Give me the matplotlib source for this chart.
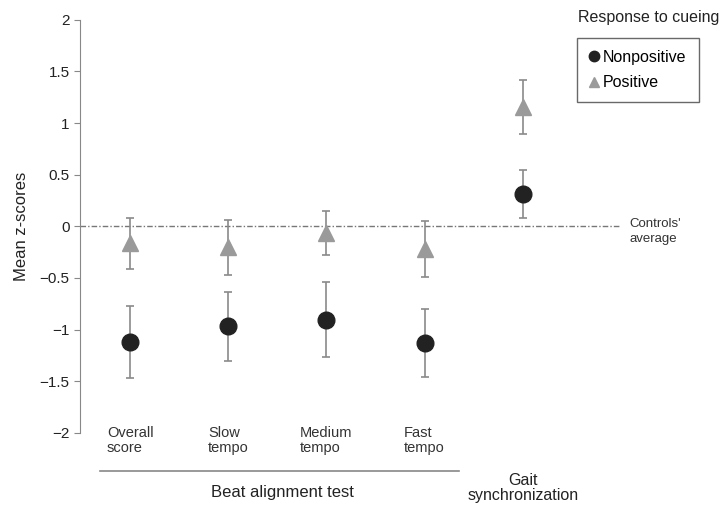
import matplotlib.pyplot as plt
from matplotlib.lines import Line2D
import numpy as np

plt.rcParams['font.family'] = ['Liberation Sans', 'DejaVu Sans']

# Data
conditions = ['Overall\nscore', 'Slow\ntempo', 'Medium\ntempo', 'Fast\ntempo', 'Gait\nsynchronization']
nonpos_mean = [-1.12, -0.97, -0.905, -1.13, 0.315]
nonpos_err = [0.35, 0.33, 0.365, 0.33, 0.235]
pos_mean = [-0.165, -0.205, -0.065, -0.22, 1.155]
pos_err = [0.245, 0.265, 0.215, 0.27, 0.265]

x = np.arange(1, len(conditions) + 1)
dark = '#222222'
grey = '#9a9a9a'

fig = plt.figure(figsize=(7.21, 5.08), dpi=100)
ax = fig.add_axes([0.111, 0.148, 0.75, 0.813])

ax.axhline(0, color='#777777', lw=1, ls=(0, (4, 1.5, 1, 1.5)), zorder=1)

ax.errorbar(x, nonpos_mean, yerr=nonpos_err, fmt='o', color=dark, ms=12,
            ecolor='#8a8a8a', elinewidth=1.2, capsize=3, capthick=1.2, zorder=3)
ax.errorbar(x, pos_mean, yerr=pos_err, fmt='^', color=grey, ms=12,
            ecolor='#8a8a8a', elinewidth=1.2, capsize=3, capthick=1.2, zorder=3)

ax.set_xlim(0.49, 6.0)
ax.set_ylim(-2, 2)
ax.set_yticks([-2, -1.5, -1, -0.5, 0, 0.5, 1, 1.5, 2])
ax.set_yticklabels(['\u22122', '\u22121.5', '\u22121', '\u22120.5', '0', '0.5', '1', '1.5', '2'])
ax.set_xticks([])
for s in ['top', 'right', 'bottom']:
    ax.spines[s].set_visible(False)
ax.spines['left'].set_color('#888888')
ax.tick_params(axis='y', colors='#888888', labelcolor=dark, labelsize=11, length=4)
ax.set_ylabel('Mean z-scores', fontsize=12, color=dark, labelpad=8)

# category labels
for xi, lab in zip(x[:4], conditions[:4]):
    ax.text(xi, -1.93, lab, ha='center', va='top', ma='left', fontsize=10.5,
            color='#333333', linespacing=1.15, clip_on=False)
ax.text(x[4], -2.53, conditions[4], ha='center', va='center', fontsize=11.5,
        color=dark, linespacing=1.0, clip_on=False)

# group bracket
ax.plot([0.695, 4.35], [-2.37, -2.37], color='#888888', lw=1.2, clip_on=False)
ax.text(2.55, -2.58, 'Beat alignment test', ha='center', va='center', fontsize=12,
        color=dark, clip_on=False)

ax.text(6.09, -0.05, "Controls'\naverage", ha='left', va='center', fontsize=9.5,
        color='#333333', linespacing=1.3, clip_on=False)

fig.text(0.801, 0.966, 'Response to cueing', ha='left', va='center', fontsize=11.5,
         color=dark)
handles = [Line2D([], [], ls='none', marker='o', color=dark, ms=7.5),
           Line2D([], [], ls='none', marker='^', color=grey, ms=7.5)]
leg = fig.legend(handles, ['Nonpositive', 'Positive'], loc='upper left',
                 bbox_to_anchor=(0.800, 0.925), fancybox=False, frameon=True,
                 fontsize=11.5, handlelength=0.6, handletextpad=0.3,
                 borderpad=0.75, labelspacing=0.65, borderaxespad=0)
leg.get_frame().set_edgecolor('#444444')
leg.get_frame().set_linewidth(1.0)

fig.savefig('out.png', dpi=100)
